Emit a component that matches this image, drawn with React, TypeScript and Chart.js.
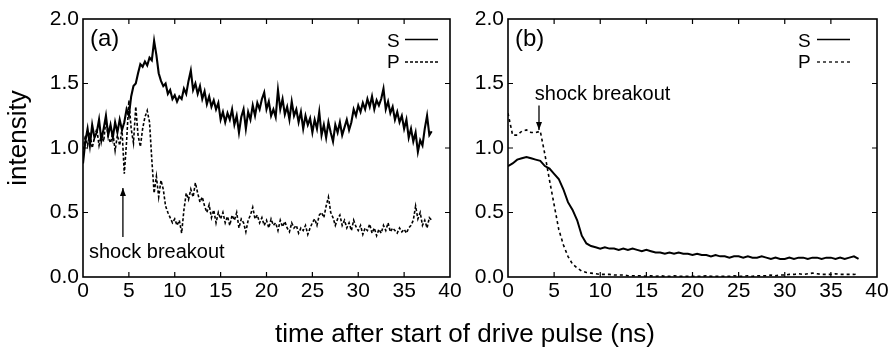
import React, { useEffect, useRef } from 'react';
import { Chart, registerables } from 'chart.js';

Chart.register(...registerables);

// ---------- data ----------
const TIME_STEP_A = 0.25; // ns between samples, panel (a)
const S_A = [
  0.88, 1.05, 1.15, 1.02,
  1.18, 1.08, 1.12, 1.22,
  1.06, 1.15, 1.25, 1.10,
  1.18, 1.08, 1.20, 1.12,
  1.22, 1.14, 1.20, 1.30,
  1.25, 1.40, 1.48, 1.50,
  1.58, 1.65, 1.63, 1.67,
  1.64, 1.70, 1.68, 1.83,
  1.72, 1.58, 1.52, 1.48,
  1.50, 1.42, 1.45, 1.38,
  1.41, 1.36, 1.40, 1.38,
  1.46, 1.42, 1.52, 1.60,
  1.45, 1.50, 1.42, 1.48,
  1.38, 1.44, 1.34, 1.40,
  1.32, 1.37, 1.30, 1.35,
  1.22, 1.28, 1.20, 1.27,
  1.22, 1.30, 1.18, 1.25,
  1.12, 1.24, 1.30, 1.15,
  1.28, 1.22, 1.33, 1.25,
  1.35, 1.30, 1.38, 1.43,
  1.30, 1.36, 1.25, 1.30,
  1.24, 1.45, 1.30, 1.38,
  1.26, 1.32, 1.22, 1.36,
  1.25, 1.30, 1.20, 1.28,
  1.15, 1.25, 1.18, 1.23,
  1.12, 1.22, 1.15, 1.28,
  1.10, 1.18, 1.08, 1.20,
  1.12, 1.05, 1.18, 1.12,
  1.20, 1.10, 1.16, 1.22,
  1.14, 1.20, 1.30, 1.25,
  1.33, 1.28, 1.35, 1.30,
  1.38, 1.32, 1.40, 1.30,
  1.37, 1.33, 1.38, 1.46,
  1.30, 1.36, 1.27, 1.32,
  1.22, 1.28, 1.20, 1.25,
  1.15, 1.22, 1.08, 1.15,
  1.05, 1.12, 0.97, 1.06,
  1.02, 1.15, 1.25, 1.10,
  1.13,
];
const P_A = [
  0.95, 1.10, 1.02, 1.12,
  1.00, 1.08, 1.15, 1.02,
  1.10, 1.05, 1.22, 1.08,
  1.04, 1.12, 0.98, 1.10,
  1.02, 1.15, 0.80, 1.05,
  1.37, 1.15, 1.04, 1.32,
  1.10, 1.01, 1.15, 1.24,
  1.29, 1.20, 0.91, 0.65,
  0.78, 0.62, 0.75, 0.68,
  0.55, 0.50, 0.46, 0.42,
  0.45, 0.40, 0.44, 0.34,
  0.52, 0.65, 0.60, 0.68,
  0.62, 0.73, 0.65, 0.58,
  0.62, 0.55, 0.50, 0.56,
  0.46, 0.52, 0.42, 0.50,
  0.45, 0.50, 0.42, 0.47,
  0.40, 0.48, 0.44, 0.50,
  0.38, 0.45, 0.42, 0.35,
  0.44, 0.48, 0.54, 0.45,
  0.48, 0.42, 0.46, 0.40,
  0.44, 0.38, 0.45, 0.40,
  0.42, 0.36, 0.44, 0.39,
  0.43, 0.38, 0.35, 0.42,
  0.38, 0.40, 0.34, 0.38,
  0.36, 0.40, 0.33, 0.38,
  0.42, 0.45, 0.40, 0.48,
  0.50, 0.46, 0.55, 0.62,
  0.50, 0.46, 0.40, 0.45,
  0.48, 0.40, 0.44, 0.38,
  0.42, 0.36, 0.44, 0.39,
  0.36, 0.40, 0.33, 0.38,
  0.36, 0.41, 0.34, 0.38,
  0.32, 0.37, 0.34, 0.40,
  0.36, 0.42, 0.35, 0.38,
  0.36, 0.34, 0.38, 0.35,
  0.37, 0.34, 0.38, 0.40,
  0.44, 0.55, 0.45, 0.50,
  0.40, 0.44, 0.38, 0.46,
  0.44,
];

const TIME_STEP_B = 0.5; // ns between samples, panel (b)
const S_B = [
  0.86, 0.88, 0.91, 0.92, 0.93, 0.92, 0.91, 0.90, 0.86, 0.84,
  0.80, 0.76, 0.68, 0.58, 0.52, 0.44, 0.32, 0.26, 0.24, 0.23,
  0.22, 0.23, 0.22, 0.22, 0.21, 0.22, 0.21, 0.22, 0.21, 0.20,
  0.21, 0.20, 0.19, 0.19, 0.18, 0.19, 0.18, 0.19, 0.18, 0.18,
  0.17, 0.18, 0.17, 0.17, 0.16, 0.17, 0.16, 0.16, 0.15, 0.16,
  0.16, 0.15, 0.16, 0.15, 0.15, 0.16, 0.15, 0.14, 0.15, 0.14,
  0.14, 0.15, 0.14, 0.15, 0.15, 0.14, 0.15, 0.15, 0.14, 0.15,
  0.15, 0.14, 0.15, 0.14, 0.15, 0.16, 0.14,
];
const P_B = [
  1.27, 1.10, 1.10, 1.13, 1.14, 1.12, 1.12, 1.13, 0.95, 0.75,
  0.56, 0.37, 0.25, 0.16, 0.10, 0.07, 0.045, 0.035, 0.03, 0.025,
  0.02, 0.02, 0.02, 0.015, 0.015, 0.015, 0.01, 0.01, 0.01, 0.01,
  0.005, 0.01, 0.005, 0.01, 0.005, 0.005, 0.01, 0.005, 0.005, 0.005,
  0.005, 0.005, 0.005, 0.01, 0.005, 0.005, 0.005, 0.005, 0.005, 0.01,
  0.005, 0.005, 0.01, 0.005, 0.01, 0.01, 0.01, 0.015, 0.01, 0.015,
  0.015, 0.02, 0.02, 0.025, 0.02, 0.025, 0.03, 0.025, 0.02, 0.02,
  0.02, 0.025, 0.02, 0.02, 0.02, 0.02, 0.025,
];

const X_TICKS = [0, 5, 10, 15, 20, 25, 30, 35, 40];
const Y_TICKS = [0, 0.5, 1.0, 1.5, 2.0];
const X_TITLE = 'time after start of drive pulse (ns)';
const Y_TITLE = 'intensity';
const SERIES_NAMES = ['S', 'P'];
const ANNOTATION = 'shock breakout';
// arrow positions in data units: [x, yFrom, yTo]
const ARROW_A = [4.35, 0.31, 0.69];
const ARROW_B = [3.36, 1.33, 1.14];
const LABEL_POS_A = [0.65, 0.145];
const LABEL_POS_B = [2.9, 1.37];

const FONT = '"Liberation Sans", Arial, Helvetica, sans-serif';
const W = 891;
const H = 348;

function toPoints(vals: number[], step: number) {
  return vals.map((v, i) => ({ x: i * step, y: v }));
}

type PanelCfg = {
  label: string;
  legendTextOff: number;
  legendLineFrom: number;
  legendLineTo: number;
  pDash: number[];
  arrow: number[];
  textPos: number[];
  drawTitles: boolean;
};

function makeFramePlugin(cfg: PanelCfg) {
  return {
    id: 'frame_' + cfg.label,
    afterDatasetsDraw(chart: any) {
      const { ctx, chartArea: a, scales } = chart;
      const x = scales.x;
      const y = scales.y;
      ctx.save();
      ctx.strokeStyle = '#000';
      ctx.fillStyle = '#000';
      ctx.setLineDash([]);
      // frame
      ctx.lineWidth = 1.6;
      ctx.strokeRect(a.left, a.top, a.right - a.left, a.bottom - a.top);
      // inward ticks
      const tl = 5;
      ctx.lineWidth = 1.2;
      ctx.beginPath();
      X_TICKS.forEach((v) => {
        if (v <= x.min || v >= x.max) return;
        const px = x.getPixelForValue(v);
        ctx.moveTo(px, a.bottom);
        ctx.lineTo(px, a.bottom - tl);
        ctx.moveTo(px, a.top);
        ctx.lineTo(px, a.top + tl);
      });
      Y_TICKS.forEach((v) => {
        if (v <= y.min || v >= y.max) return;
        const py = y.getPixelForValue(v);
        ctx.moveTo(a.left, py);
        ctx.lineTo(a.left + tl, py);
        ctx.moveTo(a.right, py);
        ctx.lineTo(a.right - tl, py);
      });
      ctx.stroke();

      // panel label
      ctx.textAlign = 'left';
      ctx.textBaseline = 'alphabetic';
      ctx.font = '24px ' + FONT;
      ctx.fillText(cfg.label, a.left + 7, a.top + 27);

      // legend
      ctx.font = '19px ' + FONT;
      const sY = a.top + 20.5;
      const pY = a.top + 43;
      ctx.fillText(SERIES_NAMES[0], a.right - cfg.legendTextOff, a.top + 28);
      ctx.fillText(SERIES_NAMES[1], a.right - cfg.legendTextOff, a.top + 49);
      ctx.lineWidth = 1.5;
      ctx.beginPath();
      ctx.moveTo(a.right - cfg.legendLineFrom, sY);
      ctx.lineTo(a.right - cfg.legendLineTo, sY);
      ctx.stroke();
      ctx.setLineDash(cfg.pDash);
      ctx.lineWidth = 1.3;
      ctx.beginPath();
      ctx.moveTo(a.right - cfg.legendLineFrom, pY);
      ctx.lineTo(a.right - cfg.legendLineTo, pY);
      ctx.stroke();
      ctx.setLineDash([]);

      // annotation text
      ctx.font = '20px ' + FONT;
      ctx.fillText(ANNOTATION, x.getPixelForValue(cfg.textPos[0]), y.getPixelForValue(cfg.textPos[1]));

      // arrow
      const ax = x.getPixelForValue(cfg.arrow[0]);
      const y0 = y.getPixelForValue(cfg.arrow[1]);
      const y1 = y.getPixelForValue(cfg.arrow[2]);
      ctx.lineWidth = 1.3;
      ctx.beginPath();
      ctx.moveTo(ax, y0);
      ctx.lineTo(ax, y1);
      ctx.stroke();
      const dir = y1 < y0 ? 1 : -1; // 1 => head points up
      ctx.beginPath();
      ctx.moveTo(ax, y1);
      ctx.lineTo(ax - 3, y1 + dir * 8);
      ctx.lineTo(ax + 3, y1 + dir * 8);
      ctx.closePath();
      ctx.fill();

      if (cfg.drawTitles) {
        ctx.font = '26px ' + FONT;
        ctx.textAlign = 'center';
        ctx.textBaseline = 'alphabetic';
        ctx.fillText(X_TITLE, 465, 342);
        ctx.save();
        ctx.translate(26, 138);
        ctx.rotate(-Math.PI / 2);
        ctx.fillText(Y_TITLE, 0, 0);
        ctx.restore();
      }
      ctx.restore();
    },
  };
}

function makeConfig(
  s: number[],
  p: number[],
  step: number,
  pad: { left: number; right: number },
  yWidth: number,
  cfg: PanelCfg,
  sWidth: number,
  pWidth: number
): any {
  const tickFont = { family: FONT, size: 21 };
  return {
    type: 'line',
    data: {
      datasets: [
        {
          label: SERIES_NAMES[0],
          data: toPoints(s, step),
          borderColor: '#000',
          borderWidth: sWidth,
          pointRadius: 0,
          tension: 0,
          fill: false,
        },
        {
          label: SERIES_NAMES[1],
          data: toPoints(p, step),
          borderColor: '#000',
          borderWidth: pWidth,
          borderDash: cfg.pDash,
          pointRadius: 0,
          tension: 0,
          fill: false,
        },
      ],
    },
    options: {
      animation: false,
      responsive: false,
      maintainAspectRatio: false,
      events: [],
      layout: { padding: { left: pad.left, right: pad.right, top: 19, bottom: 41 } },
      plugins: { legend: { display: false }, tooltip: { enabled: false } },
      scales: {
        x: {
          type: 'linear',
          min: 0,
          max: 40,
          grid: { display: false, drawTicks: false },
          border: { display: false },
          ticks: {
            stepSize: 5,
            color: '#000',
            font: tickFont,
            padding: 2,
            maxRotation: 0,
            autoSkip: false,
            callback: (v: number) => String(v),
          },
          afterFit: (sc: any) => {
            sc.height = 30;
          },
        },
        y: {
          type: 'linear',
          min: 0,
          max: 2,
          grid: { display: false, drawTicks: false },
          border: { display: false },
          ticks: {
            stepSize: 0.5,
            color: '#000',
            font: tickFont,
            padding: 4,
            callback: (v: number) => Number(v).toFixed(1),
          },
          afterFit: (sc: any) => {
            sc.width = yWidth;
          },
        },
      },
    },
    plugins: [makeFramePlugin(cfg)],
  };
}

export default function App() {
  const refA = useRef<HTMLCanvasElement | null>(null);
  const refB = useRef<HTMLCanvasElement | null>(null);

  useEffect(() => {
    document.body.style.margin = '0';
    const cfgA: PanelCfg = {
      label: '(a)',
      legendTextOff: 63,
      legendLineFrom: 45,
      legendLineTo: 12,
      pDash: [3, 2],
      arrow: ARROW_A,
      textPos: LABEL_POS_A,
      drawTitles: true,
    };
    const cfgB: PanelCfg = {
      label: '(b)',
      legendTextOff: 79,
      legendLineFrom: 60,
      legendLineTo: 27,
      pDash: [3, 3],
      arrow: ARROW_B,
      textPos: LABEL_POS_B,
      drawTitles: false,
    };
    const chartA = new Chart(
      refA.current as HTMLCanvasElement,
      makeConfig(S_A, P_A, TIME_STEP_A, { left: 0, right: W - 450 }, 83, cfgA, 2.1, 1.6)
    );
    const chartB = new Chart(
      refB.current as HTMLCanvasElement,
      makeConfig(S_B, P_B, TIME_STEP_B, { left: 430, right: W - 877 }, 78, cfgB, 2, 1.6)
    );
    return () => {
      chartA.destroy();
      chartB.destroy();
    };
  }, []);

  const style: React.CSSProperties = { position: 'absolute', left: 0, top: 0, width: W, height: H };
  return (
    <div style={{ position: 'relative', width: W, height: H, background: '#fff', overflow: 'hidden' }}>
      <canvas ref={refA} width={W} height={H} style={style} />
      <canvas ref={refB} width={W} height={H} style={style} />
    </div>
  );
}
